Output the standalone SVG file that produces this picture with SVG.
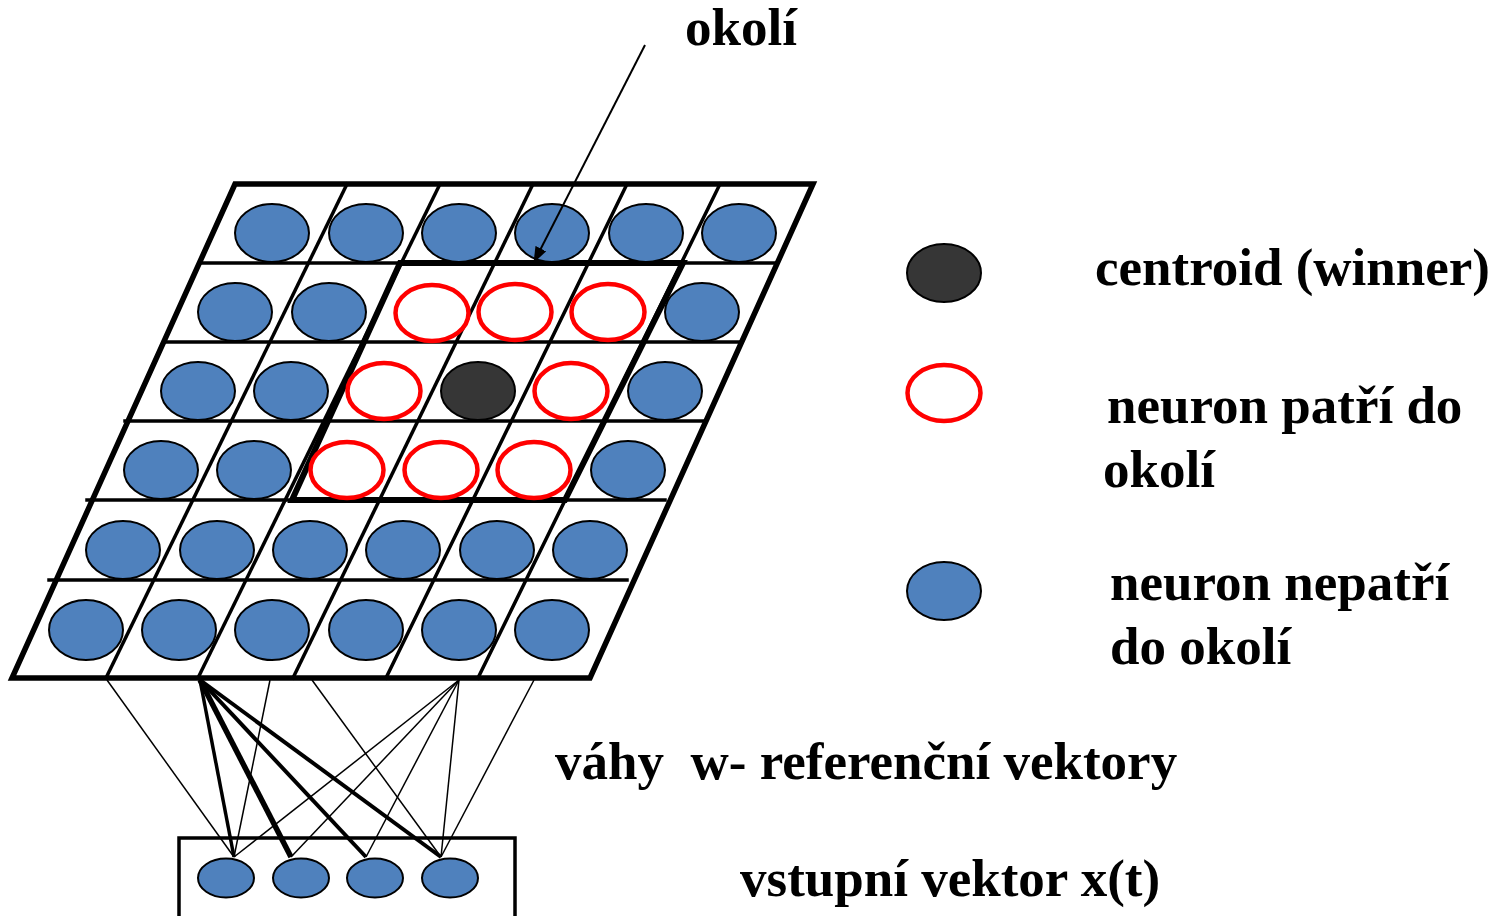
<svg xmlns="http://www.w3.org/2000/svg" width="1495" height="916" viewBox="0 0 1495 916">
  <style>
    .grid { stroke: #000; stroke-width: 3.5; fill: none; stroke-linecap: square; }
    .edge { stroke: #000; stroke-width: 5.5; fill: none; stroke-linecap: square; }
    .hood { stroke: #000; stroke-width: 6; fill: none; stroke-linejoin: miter; }
    .off { fill: #4F81BD; stroke: #000; stroke-width: 2; }
    .in { fill: #fff; stroke: #FF0000; stroke-width: 4.5; }
    .win { fill: #363636; stroke: #000; stroke-width: 2; }
    .w1 { stroke: #000; stroke-width: 1.5; }
    .w3 { stroke: #000; stroke-width: 3.5; }
    .w4 { stroke: #000; stroke-width: 4; }
    .w5 { stroke: #000; stroke-width: 5.5; }
    .pointer { stroke: #000; stroke-width: 2; }
    .lbl { font-family: "Liberation Serif", "Times New Roman", serif; font-weight: bold; font-size: 53px; fill: #000; }
  </style>
  <defs>
    <marker id="arrowhead" viewBox="0 0 16 12" refX="15" refY="6" markerWidth="16" markerHeight="12" orient="auto" markerUnits="userSpaceOnUse">
      <path d="M0,0 L16,6 L0,12 Z" fill="#000"/>
    </marker>
  </defs>
  <rect width="1495" height="916" fill="#fff"/>

  <!-- Kohonen map: slanted 6x6 grid -->
  <g id="map-grid">
    <line class="grid" x1="200" y1="263" x2="776" y2="263"/>
    <line class="grid" x1="164" y1="342" x2="741" y2="342"/>
    <line class="grid" x1="125" y1="421" x2="705" y2="421"/>
    <line class="grid" x1="87" y1="500" x2="665" y2="500"/>
    <line class="grid" x1="49" y1="580" x2="627" y2="580"/>
    <line class="grid" x1="347" y1="184" x2="106" y2="678"/>
    <line class="grid" x1="440" y1="184" x2="198" y2="678"/>
    <line class="grid" x1="533" y1="184" x2="293" y2="678"/>
    <line class="grid" x1="627" y1="184" x2="386" y2="678"/>
    <line class="grid" x1="720" y1="184" x2="478" y2="678"/>
    <path class="edge" d="M235,184 L813,184 L590,678 L12,678 Z"/>
  </g>

  <!-- neighbourhood of the winner -->
  <g id="neighbourhood">
    <path class="hood" d="M400,263 L683,263 L565,500 L292,500 Z"/>
  </g>

  <!-- map neurons, row by row -->
  <g id="row1">
    <ellipse class="off" cx="272" cy="233" rx="37" ry="29"/>
    <ellipse class="off" cx="366" cy="233" rx="37" ry="29"/>
    <ellipse class="off" cx="459" cy="233" rx="37" ry="29"/>
    <ellipse class="off" cx="552" cy="233" rx="37" ry="29"/>
    <ellipse class="off" cx="646" cy="233" rx="37" ry="29"/>
    <ellipse class="off" cx="739" cy="233" rx="37" ry="29"/>
  </g>
  <g id="row2">
    <ellipse class="off" cx="235" cy="312" rx="37" ry="29"/>
    <ellipse class="off" cx="329" cy="312" rx="37" ry="29"/>
    <ellipse class="in" cx="432" cy="313" rx="36.5" ry="28"/>
    <ellipse class="in" cx="515" cy="312" rx="36.5" ry="28"/>
    <ellipse class="in" cx="608" cy="312" rx="36.5" ry="28"/>
    <ellipse class="off" cx="702" cy="312" rx="37" ry="29"/>
  </g>
  <g id="row3">
    <ellipse class="off" cx="198" cy="391" rx="37" ry="29"/>
    <ellipse class="off" cx="291" cy="391" rx="37" ry="29"/>
    <ellipse class="in" cx="384" cy="391" rx="36.5" ry="28"/>
    <ellipse id="winner" class="win" cx="478" cy="391" rx="37" ry="29"/>
    <ellipse class="in" cx="571" cy="391" rx="36.5" ry="28"/>
    <ellipse class="off" cx="665" cy="391" rx="37" ry="29"/>
  </g>
  <g id="row4">
    <ellipse class="off" cx="161" cy="470" rx="37" ry="29"/>
    <ellipse class="off" cx="254" cy="470" rx="37" ry="29"/>
    <ellipse class="in" cx="347" cy="470" rx="36.5" ry="28"/>
    <ellipse class="in" cx="441" cy="470" rx="36.5" ry="28"/>
    <ellipse class="in" cx="534" cy="470" rx="36.5" ry="28"/>
    <ellipse class="off" cx="628" cy="470" rx="37" ry="29"/>
  </g>
  <g id="row5">
    <ellipse class="off" cx="123" cy="550" rx="37" ry="29"/>
    <ellipse class="off" cx="217" cy="550" rx="37" ry="29"/>
    <ellipse class="off" cx="310" cy="550" rx="37" ry="29"/>
    <ellipse class="off" cx="403" cy="550" rx="37" ry="29"/>
    <ellipse class="off" cx="497" cy="550" rx="37" ry="29"/>
    <ellipse class="off" cx="590" cy="550" rx="37" ry="29"/>
  </g>
  <g id="row6">
    <ellipse class="off" cx="86" cy="630" rx="37" ry="30"/>
    <ellipse class="off" cx="179" cy="630" rx="37" ry="30"/>
    <ellipse class="off" cx="272" cy="630" rx="37" ry="30"/>
    <ellipse class="off" cx="366" cy="630" rx="37" ry="30"/>
    <ellipse class="off" cx="459" cy="630" rx="37" ry="30"/>
    <ellipse class="off" cx="552" cy="630" rx="37" ry="30"/>
  </g>

  <!-- input layer -->
  <g id="input-layer">
    <rect x="179" y="838" width="336" height="80" fill="none" stroke="#000" stroke-width="3.5"/>
    <ellipse class="off" cx="226" cy="878" rx="28" ry="19.5"/>
    <ellipse class="off" cx="301" cy="878" rx="28" ry="19.5"/>
    <ellipse class="off" cx="375" cy="878" rx="28" ry="19.5"/>
    <ellipse class="off" cx="450" cy="878" rx="28" ry="19.5"/>
  </g>

  <!-- weight connections between map and inputs -->
  <g id="connectors">
    <line class="w1" x1="107" y1="680" x2="234" y2="857"/>
    <line class="w1" x1="270" y1="680" x2="234" y2="857"/>
    <line class="w1" x1="312" y1="680" x2="441" y2="857"/>
    <line class="w1" x1="459" y1="680" x2="234" y2="857"/>
    <line class="w1" x1="459" y1="680" x2="291" y2="857"/>
    <line class="w1" x1="459" y1="680" x2="366" y2="857"/>
    <line class="w1" x1="459" y1="680" x2="441" y2="857"/>
    <line class="w1" x1="534" y1="680" x2="441" y2="857"/>
    <line class="w3" x1="200" y1="680" x2="234" y2="857"/>
    <line class="w5" x1="200" y1="680" x2="291" y2="857"/>
    <line class="w4" x1="200" y1="680" x2="366" y2="857"/>
    <line class="w4" x1="200" y1="680" x2="441" y2="857"/>
    <line class="pointer" x1="645" y1="45" x2="534" y2="262" marker-end="url(#arrowhead)"/>
  </g>

  <!-- labels -->
  <g id="label-okoli">
    <text class="lbl" x="685" y="45">okolí</text>
  </g>
  <g id="legend-winner">
    <ellipse class="win" cx="944" cy="273" rx="37" ry="29"/>
    <text class="lbl" x="1095" y="285">centroid (winner)</text>
  </g>
  <g id="legend-in">
    <ellipse class="in" cx="944" cy="393" rx="36.5" ry="28"/>
    <text class="lbl" x="1107" y="423">neuron patří do</text>
    <text class="lbl" x="1103" y="487">okolí</text>
  </g>
  <g id="legend-out">
    <ellipse class="off" cx="944" cy="591" rx="37" ry="29"/>
    <text class="lbl" x="1110" y="600">neuron nepatří</text>
    <text class="lbl" x="1110" y="664">do okolí</text>
  </g>
  <g id="label-weights">
    <text class="lbl" x="555" y="779" xml:space="preserve">váhy  w- referenční vektory</text>
  </g>
  <g id="label-input">
    <text class="lbl" x="740" y="896">vstupní vektor x(t)</text>
  </g>
</svg>
